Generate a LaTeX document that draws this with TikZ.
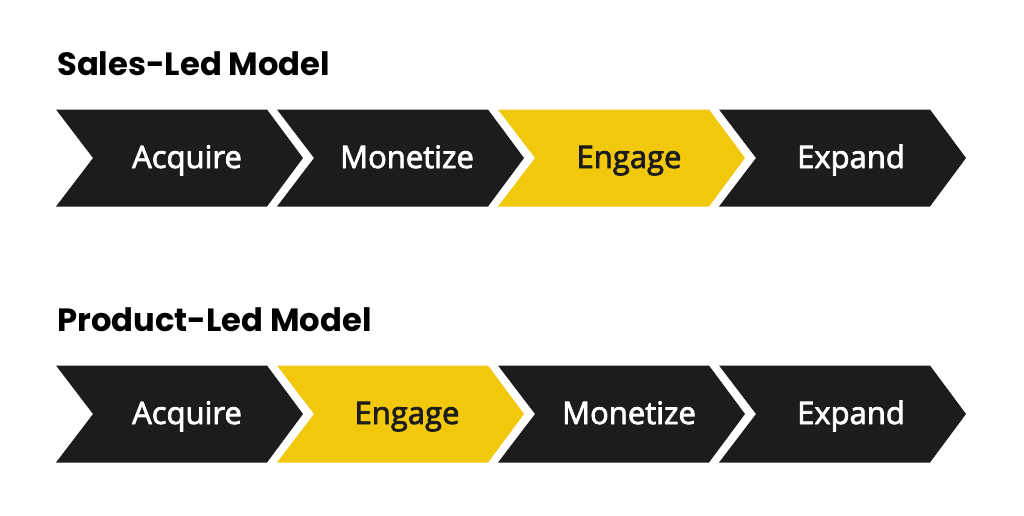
\documentclass[tikz,border=0pt]{standalone}
\usepackage{fontspec}
\newfontfamily\titlefont{Poppins}
\newfontfamily\labelfont{Open Sans}[FakeBold=2.5]
\usetikzlibrary{positioning}

\definecolor{chevdark}{HTML}{1C1C1C}
\definecolor{chevyellow}{HTML}{F2C80C}

\tikzset{
    chev/.pic={\fill (0,-48.5) -- (211,-48.5) -- (247,0) -- (211,48.5) -- (0,48.5) -- (37,0) -- cycle;},
    lbl/.style={anchor=base, inner sep=0pt, font=\labelfont\fontsize{31}{31}\selectfont, text=white},
    ttl/.style={anchor=base west, inner sep=0pt, font=\titlefont\bfseries\fontsize{32.2}{32.2}\selectfont, text=black}
}

\begin{document}
\begin{tikzpicture}[x=1pt, y=-1pt]
        \useasboundingbox[fill=white] (0,0) rectangle (1024,515);

        % sales-led
        \node[ttl] (salestitle) at (57,75) {Sales-Led Model};

        \pic[fill=chevdark] at (56,158) {chev};
        \pic[fill=chevdark] at (277,158) {chev};
        \pic[fill=chevyellow] at (498,158) {chev};
        \pic[fill=chevdark] at (719,158) {chev};

        \node[lbl] (sacquire) at (187,168) {Acquire};
        \node[lbl] (smonetize) at (407,168) {Monetize};
        \node[lbl, text=chevdark] (sengage) at (629,168) {Engage};
        \node[lbl] (sexpand) at (851,168) {Expand};

        % product-led
        \node[ttl] (producttitle) at (57,331) {Product-Led Model};

        \pic[fill=chevdark] at (56,414) {chev};
        \pic[fill=chevyellow] at (277,414) {chev};
        \pic[fill=chevdark] at (498,414) {chev};
        \pic[fill=chevdark] at (719,414) {chev};

        \node[lbl] (pacquire) at (187,424) {Acquire};
        \node[lbl, text=chevdark] (pengage) at (407,424) {Engage};
        \node[lbl] (pmonetize) at (629,424) {Monetize};
        \node[lbl] (pexpand) at (851,424) {Expand};
    \end{tikzpicture}
\end{document}
